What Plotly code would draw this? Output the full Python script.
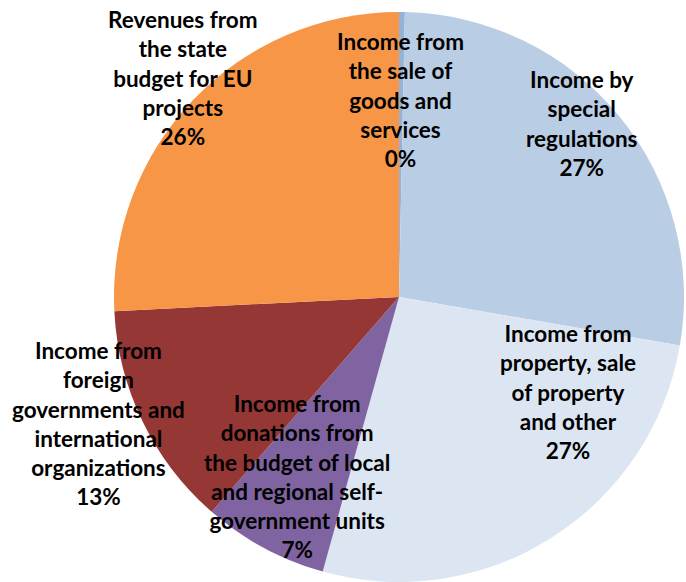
import plotly.graph_objects as go

labels = [
    "Income from the sale of goods and services",
    "Income by special regulations",
    "Income from property, sale of property and other",
    "Income from donations from the budget of local and regional self-government units",
    "Income from foreign governments and international organizations",
    "Revenues from the state budget for EU projects",
]
label_lines = [
    "Income from<br>the sale of<br>goods and<br>services",
    "Income by<br>special<br>regulations",
    "Income from<br>property, sale<br>of property<br>and other",
    "Income from<br>donations from<br>the budget of local<br>and regional self-<br>government units",
    "Income from<br>foreign<br>governments and<br>international<br>organizations",
    "Revenues from<br>the state<br>budget for EU<br>projects",
]
values = [0.33, 27.4, 26.6, 7.1, 12.8, 25.8]
colors = ["#95B3D7", "#B9CDE5", "#DCE6F2", "#8064A2", "#953735", "#F79646"]

# label centre positions in pixels (x, y from top)
label_px = [(400, 100), (582, 123), (568, 392), (297, 476), (98, 423), (183, 78)]

W, H = 686, 582
cx, cy, r = 399, 297, 285

fig = go.Figure(go.Pie(
    labels=labels,
    values=values,
    sort=False,
    direction="clockwise",
    rotation=0,
    marker=dict(colors=colors, line=dict(width=0)),
    textinfo="none",
    hoverinfo="label+percent",
    domain=dict(x=[(cx - r) / W, (cx + r) / W],
                y=[max(0.0, (H - cy - r) / H), (H - cy + r) / H]),
    showlegend=False,
))

total = sum(values)
for txt, v, (px, py) in zip(label_lines, values, label_px):
    pct = round(100 * v / total)
    fig.add_annotation(
        x=px / W, y=1 - py / H, xref="paper", yref="paper",
        text=f"{txt}<br>{pct}%", showarrow=False,
        font=dict(family="Lato", size=22.5, color="#000000", weight="bold"),
        align="center", xanchor="center", yanchor="middle",
    )

fig.update_layout(
    width=W, height=H,
    margin=dict(l=0, r=0, t=0, b=0),
    paper_bgcolor="white", plot_bgcolor="white",
)
fig.write_html("out.html", config={"displayModeBar": False},
               post_script="document.body.style.margin='0';")
